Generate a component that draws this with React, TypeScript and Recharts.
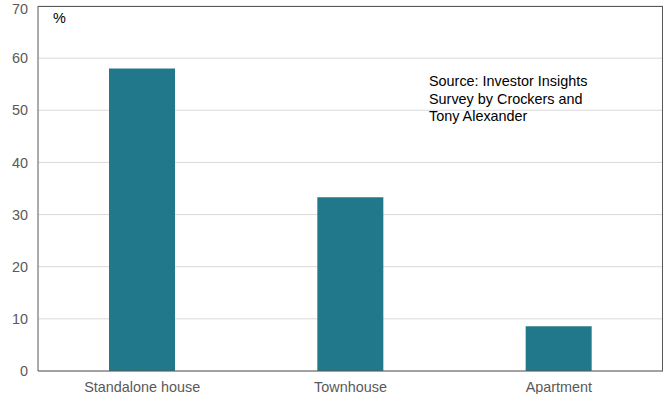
import React from "react";
import { BarChart, Bar, XAxis, YAxis, CartesianGrid } from "recharts";

const categories = ["Standalone house", "Townhouse", "Apartment"];
const shares = [58, 33.3, 8.6];
const yTicks = [0, 10, 20, 30, 40, 50, 60, 70];
const sourceLines = ["Source: Investor Insights", "Survey by Crockers and", "Tony Alexander"];

const data = categories.map((name, i) => ({ name, share: shares[i] }));

const FONT = "'Liberation Sans', Arial, sans-serif";
const AXIS = "#595959";
const FS = 14.4;

const App = () => {
  return (
    <div style={{ position: "absolute", left: 0, top: 0, width: 669, height: 394, fontFamily: FONT }}>
      <BarChart
        width={669}
        height={394}
        data={data}
        margin={{ top: 6, right: 6, bottom: 0, left: 0 }}
      >
        <CartesianGrid vertical={false} stroke="#d9d9d9" />
        <XAxis
          dataKey="name"
          height={23}
          tickLine={false}
          tickSize={0}
          tickMargin={11}
          axisLine={{ stroke: AXIS }}
          tick={{ fill: AXIS, fontSize: FS, fontFamily: FONT }}
        />
        <YAxis
          width={38}
          domain={[0, 70]}
          ticks={yTicks}
          tickLine={false}
          tickSize={0}
          tickMargin={10}
          axisLine={{ stroke: AXIS }}
          tick={{ fill: AXIS, fontSize: FS, fontFamily: FONT }}
        />
        <Bar dataKey="share" fill="#21788a" barSize={66} isAnimationActive={false} />
      </BarChart>
      {/* frame on top and right of the plot area */}
      <div
        style={{
          position: "absolute",
          left: 38,
          top: 6,
          width: 625,
          height: 365,
          borderTop: `1px solid ${AXIS}`,
          borderRight: `1px solid ${AXIS}`,
          boxSizing: "border-box",
          pointerEvents: "none",
        }}
      />
      <div style={{ position: "absolute", left: 53, top: 10, fontSize: FS, color: "#000" }}>%</div>
      <div
        style={{
          position: "absolute",
          left: 429,
          top: 73,
          fontSize: FS,
          lineHeight: "17.5px",
          color: "#000",
        }}
      >
        {sourceLines.map((line) => (
          <div key={line}>{line}</div>
        ))}
      </div>
    </div>
  );
};

export default App;
